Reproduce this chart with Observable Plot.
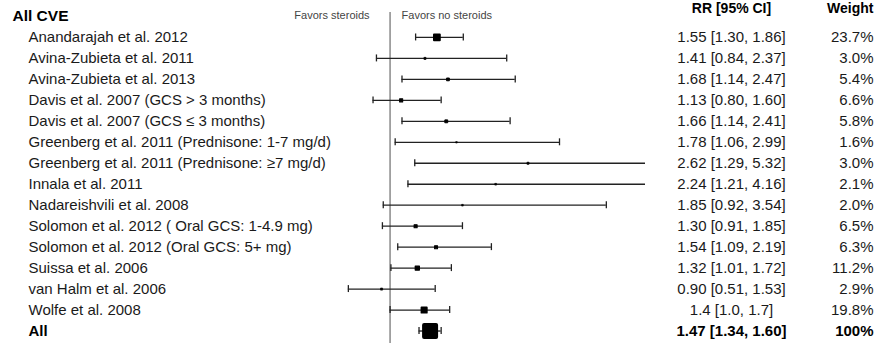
<!DOCTYPE html>
<html><head><meta charset="utf-8">
<script src="https://cdn.jsdelivr.net/npm/d3@7"></script>
<script src="https://cdn.jsdelivr.net/npm/@observablehq/plot@0.6"></script>
<style>body{margin:0;background:#fff} #chart svg{display:block}</style>
</head><body><div id="chart"></div>
<script>
const groupTitle = "All CVE";
const studies = [
  "Anandarajah et al. 2012",
  "Avina-Zubieta et al. 2011",
  "Avina-Zubieta et al. 2013",
  "Davis et al. 2007 (GCS > 3 months)",
  "Davis et al. 2007 (GCS \u2264 3 months)",
  "Greenberg et al. 2011 (Prednisone: 1-7 mg/d)",
  "Greenberg et al. 2011 (Prednisone: \u22657 mg/d)",
  "Innala et al. 2011",
  "Nadareishvili et al. 2008",
  "Solomon et al. 2012 ( Oral GCS: 1-4.9 mg)",
  "Solomon et al. 2012 (Oral GCS: 5+ mg)",
  "Suissa et al. 2006",
  "van Halm et al. 2006",
  "Wolfe et al. 2008"
];
const rr      = [1.55, 1.41, 1.68, 1.13, 1.66, 1.78, 2.62, 2.24, 1.85, 1.30, 1.54, 1.32, 0.90, 1.4];
const lower   = [1.30, 0.84, 1.14, 0.80, 1.14, 1.06, 1.29, 1.21, 0.92, 0.91, 1.09, 1.01, 0.51, 1.0];
const upper   = [1.86, 2.37, 2.47, 1.60, 2.41, 2.99, 5.32, 4.16, 3.54, 1.85, 2.19, 1.72, 1.53, 1.7];
const weights = [23.7, 3.0, 5.4, 6.6, 5.8, 1.6, 3.0, 2.1, 2.0, 6.5, 6.3, 11.2, 2.9, 19.8];
const ciLabels = [
  "1.55 [1.30, 1.86]", "1.41 [0.84, 2.37]", "1.68 [1.14, 2.47]", "1.13 [0.80, 1.60]",
  "1.66 [1.14, 2.41]", "1.78 [1.06, 2.99]", "2.62 [1.29, 5.32]", "2.24 [1.21, 4.16]",
  "1.85 [0.92, 3.54]", "1.30 [0.91, 1.85]", "1.54 [1.09, 2.19]", "1.32 [1.01, 1.72]",
  "0.90 [0.51, 1.53]", "1.4 [1.0, 1.7]"
];
const weightLabels = ["23.7%", "3.0%", "5.4%", "6.6%", "5.8%", "1.6%", "3.0%", "2.1%", "2.0%", "6.5%", "6.3%", "11.2%", "2.9%", "19.8%"];
const pooledName = "All";
const pooledRR = 1.47, pooledLower = 1.34, pooledUpper = 1.60, pooledWeight = 100;
const pooledCI = "1.47 [1.34, 1.60]";
const pooledWeightLabel = "100%";
const columnHeaders = ["RR [95% CI]", "Weight"];
const favorsLabels = ["Favors steroids", "Favors no steroids"];
const xDomain = [0.5, 4];
const refValue = 1;

const rows = studies.map((name, i) => ({name, rr: rr[i], lo: lower[i], hi: upper[i], w: weights[i], ci: ciLabels[i], wl: weightLabels[i], pooled: false}));
rows.push({name: pooledName, rr: pooledRR, lo: pooledLower, hi: pooledUpper, w: pooledWeight, ci: pooledCI, wl: pooledWeightLabel, pooled: true});
const yDomain = [groupTitle, ...rows.map(d => d.name)];
const side = d => 16 * Math.sqrt(d.w / 100);
const FONT = "'Liberation Sans', Arial, sans-serif";
const ML = 347;

const plot = Plot.plot({
  width: 880, height: 343,
  marginLeft: ML, marginRight: 235, marginTop: 0, marginBottom: 0,
  style: {fontFamily: FONT, background: "#fff", overflow: "hidden"},
  x: {domain: xDomain, axis: null},
  y: {type: "band", domain: yDomain, range: [5.5, 341], padding: 0, round: false, axis: null},
  r: {type: "identity"},
  marks: [
    Plot.ruleX([refValue], {stroke: "#8a8a8a", strokeWidth: 1.5, insetTop: 12}),
    Plot.ruleY(rows, {y: "name", x1: "lo", x2: "hi", stroke: "#222", strokeWidth: 1.3, clip: true}),
    Plot.tickX(rows, {x: "lo", y: "name", stroke: "#222", strokeWidth: 1.3, insetTop: 7, insetBottom: 7, clip: true}),
    Plot.tickX(rows, {x: "hi", y: "name", stroke: "#222", strokeWidth: 1.3, insetTop: 7, insetBottom: 7, clip: true}),
    Plot.dot(rows, {x: "rr", y: "name", symbol: "square",
      r: d => 0.75 * side(d) / Math.sqrt(Math.PI),
      strokeWidth: d => 0.25 * side(d),
      fill: "#000", stroke: "#000", strokeLinejoin: "round"}),
    // group title
    Plot.text([groupTitle], {y: d => d, text: d => d, frameAnchor: "left", dx: 12 - ML, textAnchor: "start", fontWeight: "bold", fontSize: 15.5, fill: "#000"}),
    // study labels
    Plot.text(rows, {filter: d => !d.pooled, y: "name", text: "name", frameAnchor: "left", dx: 28 - ML, textAnchor: "start", fontSize: 15, fill: "#1a1a1a"}),
    Plot.text(rows, {filter: d => d.pooled, y: "name", text: "name", frameAnchor: "left", dx: 28 - ML, textAnchor: "start", fontSize: 15, fontWeight: "bold", fill: "#000"}),
    // CI column
    Plot.text(rows, {filter: d => !d.pooled, y: "name", text: "ci", frameAnchor: "right", dx: 86, textAnchor: "middle", fontSize: 15, fill: "#1a1a1a"}),
    Plot.text(rows, {filter: d => d.pooled, y: "name", text: "ci", frameAnchor: "right", dx: 86, textAnchor: "middle", fontSize: 15, fontWeight: "bold", fill: "#000"}),
    // Weight column
    Plot.text(rows, {filter: d => !d.pooled, y: "name", text: "wl", frameAnchor: "right", dx: 228, textAnchor: "end", fontSize: 15, fill: "#1a1a1a"}),
    Plot.text(rows, {filter: d => d.pooled, y: "name", text: "wl", frameAnchor: "right", dx: 228, textAnchor: "end", fontSize: 15, fontWeight: "bold", fill: "#000"}),
    // column headers
    Plot.text([{y: groupTitle, t: columnHeaders[0]}], {y: "y", text: "t", frameAnchor: "right", dx: 86, dy: -8, textAnchor: "middle", fontSize: 14, fontWeight: "bold", fill: "#000"}),
    Plot.text([{y: groupTitle, t: columnHeaders[1]}], {y: "y", text: "t", frameAnchor: "right", dx: 228, dy: -8, textAnchor: "end", fontSize: 14, fontWeight: "bold", fill: "#000"}),
    // favors labels
    Plot.text([favorsLabels[0]], {x: () => refValue, text: d => d, frameAnchor: "top", dx: -20.5, dy: 10.5, textAnchor: "end", fontSize: 11, fill: "#444"}),
    Plot.text([favorsLabels[1]], {x: () => refValue, text: d => d, frameAnchor: "top", dx: 11.5, dy: 10.5, textAnchor: "start", fontSize: 11, fill: "#444"})
  ]
});
document.getElementById("chart").appendChild(plot);
</script>
</body></html>
